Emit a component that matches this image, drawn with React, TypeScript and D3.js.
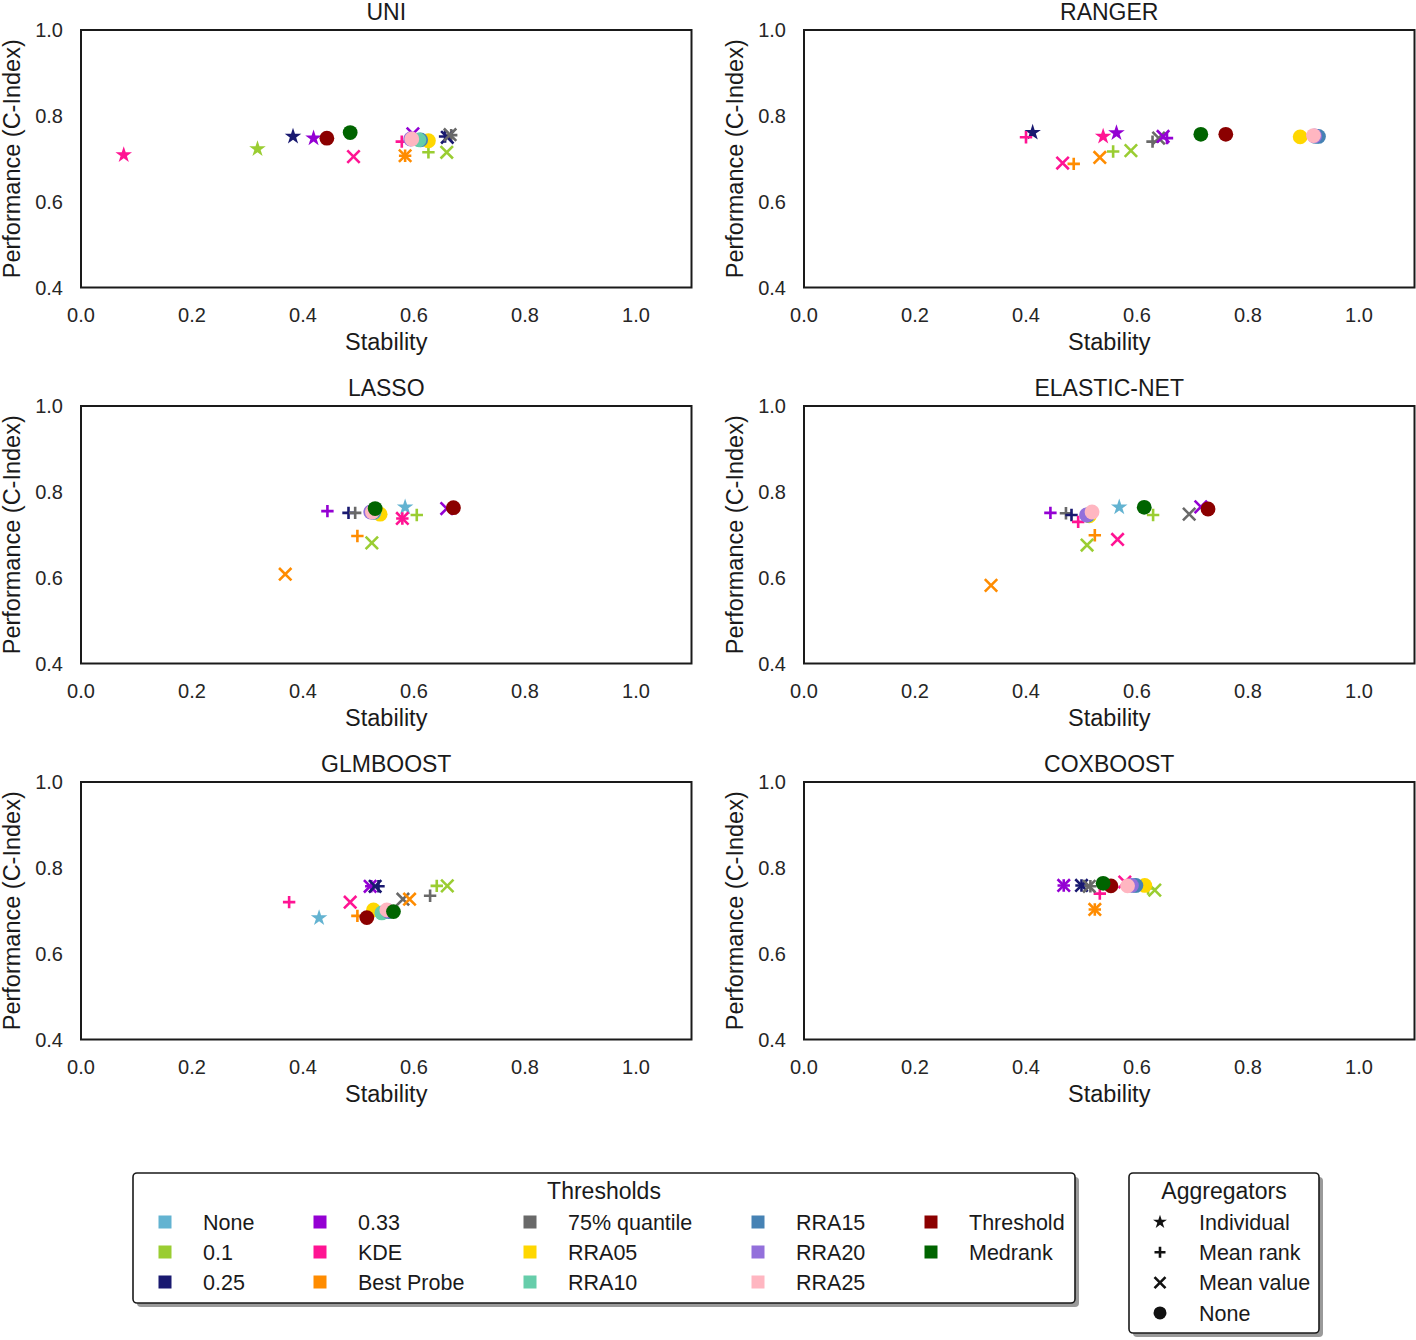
import React from "react";
import * as d3 from "d3";

// Threshold categories and colours
const thresholds = ["None", "0.1", "0.25", "0.33", "KDE", "Best Probe", "75% quantile", "RRA05", "RRA10", "RRA15", "RRA20", "RRA25", "Threshold", "Medrank"];
const thresholdColors = ["#63b3d1", "#9acd32", "#191970", "#9400d3", "#ff1493", "#ff8c00", "#696969", "#ffd700", "#66cdaa", "#4682b4", "#9370db", "#ffb6c1", "#8b0000", "#006400"];
const aggregators = ["Individual", "Mean rank", "Mean value", "None"];
const aggregatorShapes = ["star", "plus", "cross", "circle"];

const xTicks = [0.0, 0.2, 0.4, 0.6, 0.8, 1.0];
const yTicks = [0.4, 0.6, 0.8, 1.0];

type Pt = [string, string, number, number]; // threshold, aggregator, stability, performance

const uniPoints: Pt[] = [
  ["0.1", "Individual", 0.318, 0.723],
  ["KDE", "Individual", 0.077, 0.709],
  ["0.25", "Individual", 0.382, 0.752],
  ["0.33", "Individual", 0.419, 0.748],
  ["KDE", "Mean value", 0.491, 0.705],
  ["Best Probe", "Mean rank", 0.584, 0.707],
  ["Best Probe", "Mean value", 0.584, 0.707],
  ["0.33", "Mean value", 0.598, 0.758],
  ["KDE", "Mean rank", 0.578, 0.740],
  ["0.1", "Mean rank", 0.626, 0.715],
  ["0.1", "Mean value", 0.659, 0.715],
  ["0.25", "Mean rank", 0.656, 0.752],
  ["0.25", "Mean value", 0.660, 0.750],
  ["75% quantile", "Mean rank", 0.667, 0.755],
  ["75% quantile", "Mean value", 0.665, 0.756],
  ["Threshold", "None", 0.443, 0.748],
  ["Medrank", "None", 0.485, 0.761],
  ["RRA05", "None", 0.626, 0.742],
  ["RRA15", "None", 0.612, 0.744],
  ["RRA10", "None", 0.609, 0.744],
  ["RRA20", "None", 0.594, 0.746],
  ["RRA25", "None", 0.596, 0.746],
];

const rangerPoints: Pt[] = [
  ["KDE", "Mean rank", 0.400, 0.750],
  ["0.25", "Individual", 0.412, 0.761],
  ["KDE", "Mean value", 0.466, 0.690],
  ["Best Probe", "Mean rank", 0.486, 0.688],
  ["Best Probe", "Mean value", 0.533, 0.703],
  ["KDE", "Individual", 0.539, 0.752],
  ["0.1", "Mean rank", 0.557, 0.717],
  ["0.33", "Individual", 0.563, 0.760],
  ["0.1", "Mean value", 0.589, 0.719],
  ["75% quantile", "Mean rank", 0.628, 0.740],
  ["75% quantile", "Mean value", 0.639, 0.748],
  ["0.33", "Mean value", 0.647, 0.752],
  ["0.33", "Mean rank", 0.654, 0.748],
  ["Medrank", "None", 0.715, 0.757],
  ["Threshold", "None", 0.760, 0.757],
  ["RRA05", "None", 0.894, 0.751],
  ["RRA10", "None", 0.922, 0.752],
  ["RRA15", "None", 0.927, 0.752],
  ["RRA20", "None", 0.920, 0.753],
  ["RRA25", "None", 0.918, 0.754],
];

const lassoPoints: Pt[] = [
  ["0.33", "Mean rank", 0.444, 0.755],
  ["0.25", "Mean rank", 0.482, 0.751],
  ["75% quantile", "Mean rank", 0.494, 0.751],
  ["None", "Individual", 0.584, 0.764],
  ["KDE", "Mean rank", 0.579, 0.738],
  ["KDE", "Mean value", 0.579, 0.738],
  ["0.1", "Mean rank", 0.605, 0.746],
  ["0.33", "Mean value", 0.659, 0.761],
  ["Best Probe", "Mean rank", 0.498, 0.697],
  ["0.1", "Mean value", 0.524, 0.681],
  ["Best Probe", "Mean value", 0.368, 0.608],
  ["RRA05", "None", 0.539, 0.748],
  ["RRA10", "None", 0.528, 0.752],
  ["RRA15", "None", 0.527, 0.753],
  ["RRA20", "None", 0.522, 0.753],
  ["RRA25", "None", 0.525, 0.753],
  ["Medrank", "None", 0.530, 0.761],
  ["Threshold", "None", 0.671, 0.763],
];

const elasticPoints: Pt[] = [
  ["0.33", "Mean rank", 0.444, 0.751],
  ["75% quantile", "Mean rank", 0.472, 0.750],
  ["0.25", "Mean rank", 0.482, 0.746],
  ["KDE", "Mean rank", 0.494, 0.730],
  ["None", "Individual", 0.568, 0.764],
  ["0.1", "Mean rank", 0.629, 0.746],
  ["75% quantile", "Mean value", 0.694, 0.748],
  ["0.33", "Mean value", 0.715, 0.765],
  ["Best Probe", "Mean rank", 0.524, 0.699],
  ["0.1", "Mean value", 0.510, 0.676],
  ["KDE", "Mean value", 0.565, 0.689],
  ["Best Probe", "Mean value", 0.337, 0.582],
  ["RRA05", "None", 0.514, 0.744],
  ["RRA10", "None", 0.512, 0.746],
  ["RRA15", "None", 0.511, 0.746],
  ["RRA20", "None", 0.509, 0.746],
  ["RRA25", "None", 0.519, 0.753],
  ["Medrank", "None", 0.613, 0.764],
  ["Threshold", "None", 0.728, 0.760],
];

const glmboostPoints: Pt[] = [
  ["KDE", "Mean rank", 0.375, 0.720],
  ["None", "Individual", 0.429, 0.683],
  ["KDE", "Mean value", 0.485, 0.720],
  ["Best Probe", "Mean rank", 0.498, 0.688],
  ["0.33", "Mean value", 0.521, 0.757],
  ["0.33", "Mean rank", 0.523, 0.757],
  ["0.25", "Mean value", 0.530, 0.757],
  ["0.25", "Mean rank", 0.536, 0.757],
  ["75% quantile", "Mean value", 0.580, 0.727],
  ["Best Probe", "Mean value", 0.592, 0.727],
  ["75% quantile", "Mean rank", 0.629, 0.735],
  ["0.1", "Mean rank", 0.641, 0.758],
  ["0.1", "Mean value", 0.660, 0.758],
  ["RRA05", "None", 0.527, 0.702],
  ["RRA10", "None", 0.542, 0.695],
  ["RRA15", "None", 0.555, 0.698],
  ["RRA20", "None", 0.553, 0.700],
  ["RRA25", "None", 0.551, 0.702],
  ["Threshold", "None", 0.515, 0.684],
  ["Medrank", "None", 0.563, 0.698],
];

const coxboostPoints: Pt[] = [
  ["0.33", "Mean value", 0.468, 0.759],
  ["0.33", "Mean rank", 0.468, 0.759],
  ["0.25", "Mean value", 0.500, 0.759],
  ["0.25", "Mean rank", 0.500, 0.759],
  ["75% quantile", "Mean value", 0.514, 0.757],
  ["75% quantile", "Mean rank", 0.516, 0.757],
  ["KDE", "Mean rank", 0.533, 0.740],
  ["Best Probe", "Mean value", 0.524, 0.703],
  ["Best Probe", "Mean rank", 0.524, 0.703],
  ["KDE", "Mean value", 0.578, 0.767],
  ["0.1", "Mean rank", 0.620, 0.752],
  ["0.1", "Mean value", 0.632, 0.748],
  ["RRA05", "None", 0.614, 0.759],
  ["RRA10", "None", 0.595, 0.759],
  ["RRA15", "None", 0.598, 0.759],
  ["RRA20", "None", 0.590, 0.759],
  ["RRA25", "None", 0.583, 0.758],
  ["Threshold", "None", 0.553, 0.758],
  ["Medrank", "None", 0.539, 0.764],
];

const panelTitles = ["UNI", "RANGER", "LASSO", "ELASTIC-NET", "GLMBOOST", "COXBOOST"];
const panelData = [uniPoints, rangerPoints, lassoPoints, elasticPoints, glmboostPoints, coxboostPoints];

const FONT = "'Liberation Sans', Arial, Helvetica, sans-serif";
const colorScale = d3.scaleOrdinal<string, string>().domain(thresholds).range(thresholdColors);
const shapeScale = d3.scaleOrdinal<string, string>().domain(aggregators).range(aggregatorShapes);
const starPath = d3.symbol().type(d3.symbolStar).size(85)() as string;
const starPathSmall = d3.symbol().type(d3.symbolStar).size(60)() as string;

function Marker({ shape, x, y, color, small }: { shape: string; x: number; y: number; color: string; small?: boolean }) {
  const h = small ? 5.5 : 6.2;
  if (shape === "star") return <path d={small ? starPathSmall : starPath} transform={`translate(${x},${y})`} fill={color} />;
  if (shape === "circle") return <circle cx={x} cy={y} r={small ? 6.5 : 7.4} fill={color} />;
  if (shape === "plus")
    return (
      <path d={`M${x - h},${y}H${x + h}M${x},${y - h}V${y + h}`} stroke={color} strokeWidth={2.6} fill="none" />
    );
  return (
    <path d={`M${x - h},${y - h}L${x + h},${y + h}M${x - h},${y + h}L${x + h},${y - h}`} stroke={color} strokeWidth={2.6} fill="none" />
  );
}

const shapeOrder: Record<string, number> = { star: 0, plus: 1, cross: 2, circle: 3 };

function Panel({ title, data, x0, top }: { title: string; data: Pt[]; x0: number; top: number }) {
  const w = 610.5;
  const h = 257.5;
  const x = d3.scaleLinear().domain([0, 1.1]).range([x0, x0 + w]);
  const y = d3.scaleLinear().domain([0.4, 1.0]).range([top + h, top]);
  const sorted = [...data].sort((a, b) => shapeOrder[shapeScale(a[1])] - shapeOrder[shapeScale(b[1])]);
  return (
    <g>
      <text x={x0 + w / 2} y={top - 10.5} textAnchor="middle" fontSize={23} fontFamily={FONT} fill="#1a1a1a">
        {title}
      </text>
      {xTicks.map((t) => (
        <text key={"x" + t} x={x(t)} y={top + h + 34.5} textAnchor="middle" fontSize={20} fontFamily={FONT} fill="#262626">
          {t.toFixed(1)}
        </text>
      ))}
      {yTicks.map((t) => (
        <text key={"y" + t} x={x0 - 18} y={y(t) + 7} textAnchor="end" fontSize={20} fontFamily={FONT} fill="#262626">
          {t.toFixed(1)}
        </text>
      ))}
      <text x={x0 + w / 2} y={top + h + 62.5} textAnchor="middle" fontSize={23.5} fontFamily={FONT} fill="#1a1a1a">
        Stability
      </text>
      <text
        transform={`translate(${x0 - 61},${top + h / 2}) rotate(-90)`}
        textAnchor="middle"
        fontSize={23.5}
        fontFamily={FONT}
        fill="#1a1a1a"
      >
        Performance (C-Index)
      </text>
      {sorted.map((p, i) => (
        <Marker key={i} shape={shapeScale(p[1])} x={x(p[2])} y={y(p[3])} color={colorScale(p[0])} />
      ))}
      <rect x={x0} y={top} width={w} height={h} fill="none" stroke="#1a1a1a" strokeWidth={2} />
    </g>
  );
}

export default function App() {
  const lefts = [81, 804];
  const tops = [30, 406, 782];
  // legend layout
  const colX = [165, 320, 530, 758, 931];
  const rowY = [1222, 1252, 1282];
  return (
    <svg width={1416} height={1340} style={{ position: "absolute", left: 0, top: 0, background: "#fff" }}>
      <rect width={1416} height={1340} fill="#fff" />
      {panelTitles.map((t, i) => (
        <Panel key={t} title={t} data={panelData[i]} x0={lefts[i % 2]} top={tops[Math.floor(i / 2)]} />
      ))}
      {/* Thresholds legend */}
      <rect x={137} y={1177} width={942} height={130} rx={4} fill="#9a9a9a" />
      <rect x={133} y={1173} width={942} height={130} rx={4} fill="#fff" stroke="#1a1a1a" strokeWidth={1.6} />
      <text x={604} y={1199} textAnchor="middle" fontSize={23} fontFamily={FONT} fill="#1a1a1a">
        Thresholds
      </text>
      {thresholds.map((t, i) => {
        const c = Math.floor(i / 3);
        const r = i % 3;
        return (
          <g key={t}>
            <rect x={colX[c] - 6.5} y={rowY[r] - 6.5} width={13} height={13} fill={colorScale(t)} />
            <text x={colX[c] + 38} y={rowY[r] + 7.7} fontSize={21.5} fontFamily={FONT} fill="#1a1a1a">
              {t}
            </text>
          </g>
        );
      })}
      {/* Aggregators legend */}
      <rect x={1133} y={1177} width={190} height={160} rx={4} fill="#9a9a9a" />
      <rect x={1129} y={1173} width={190} height={160} rx={4} fill="#fff" stroke="#1a1a1a" strokeWidth={1.6} />
      <text x={1224} y={1199} textAnchor="middle" fontSize={23} fontFamily={FONT} fill="#1a1a1a">
        Aggregators
      </text>
      {aggregators.map((a, i) => {
        const yy = 1222 + i * 30.3;
        return (
          <g key={a}>
            <Marker shape={shapeScale(a)} x={1160} y={yy} color="#111" small />
            <text x={1199} y={yy + 7.7} fontSize={21.5} fontFamily={FONT} fill="#1a1a1a">
              {a}
            </text>
          </g>
        );
      })}
    </svg>
  );
}
